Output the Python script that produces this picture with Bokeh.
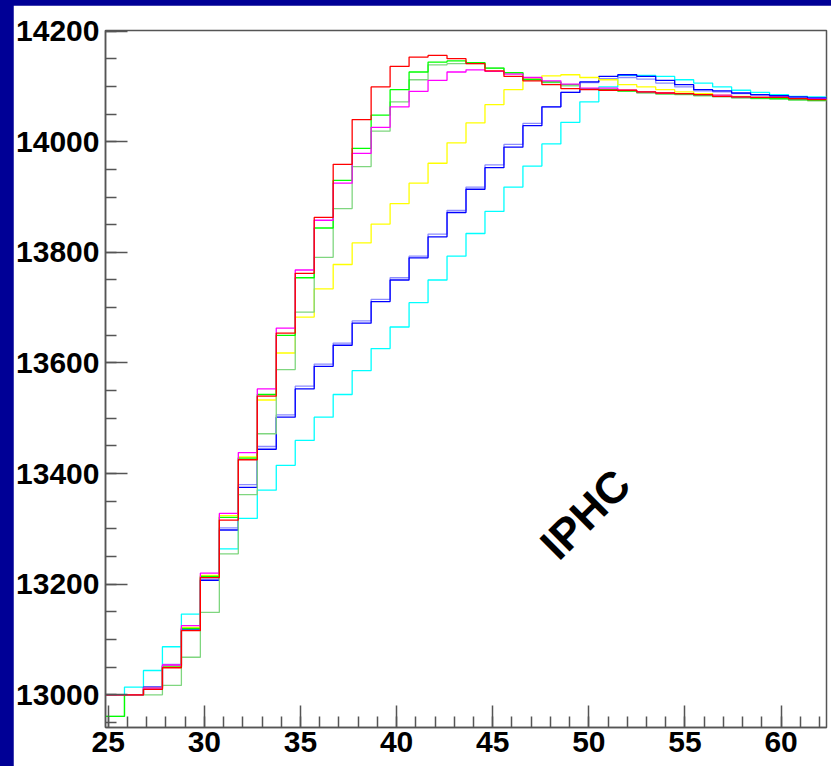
import numpy as np
from bokeh.plotting import figure
from bokeh.models import Range1d, Label, FixedTicker
from bokeh.layouts import column
from bokeh.embed import file_html
from bokeh.resources import INLINE

# ---- data -------------------------------------------------------------
x_lo, x_hi, n_bins = 24.86, 62.36, 38
y_lo, y_hi = 12941, 14201

red = [13000, 13000, 13010, 13049, 13116, 13212, 13316, 13425, 13540, 13654,
       13762, 13863, 13959, 14040, 14099, 14136, 14153, 14156, 14150, 14141,
       14128, 14118, 14110, 14103, 14096, 14094, 14093, 14093, 14090, 14088,
       14087, 14085, 14082, 14081, 14080, 14080, 14078, 14076]
green = [12961, 13000, 13010, 13050, 13120, 13214, 13321, 13428, 13543, 13650,
         13754, 13844, 13930, 13988, 14048, 14094, 14126, 14144, 14146, 14143,
         14133, 14125, 14112, 14108, 14103, 14096, 14094, 14092, 14089, 14087,
         14086, 14084, 14082, 14080, 14079, 14078, 14076, 14075]
pale_green = [12961, 13000, 13000, 13017, 13068, 13149, 13255, 13362, 13472, 13588,
              13692, 13791, 13879, 13955, 14019, 14072, 14112, 14139, 14141, 14141,
              14133, 14124, 14113, 14107, 14101, 14095, 14093, 14091, 14088, 14086,
              14085, 14083, 14081, 14079, 14078, 14077, 14075, 14074]
magenta = [13000, 13000, 13012, 13054, 13125, 13220, 13328, 13438, 13553, 13663,
           13768, 13858, 13925, 13979, 14026, 14063, 14091, 14111, 14126, 14130,
           14127, 14122, 14116, 14110, 14104, 14097, 14097, 14093, 14090, 14088,
           14087, 14085, 14084, 14081, 14080, 14080, 14078, 14077]
yellow = [13000, 13000, 13012, 13052, 13122, 13216, 13324, 13430, 13533, 13618,
          13683, 13734, 13778, 13817, 13851, 13888, 13925, 13961, 13998, 14034,
          14067, 14094, 14114, 14119, 14121, 14116, 14112, 14103, 14099, 14094,
          14090, 14087, 14084, 14082, 14080, 14079, 14077, 14076]
blue = [13000, 13000, 13014, 13052, 13119, 13207, 13298, 13375, 13444, 13502,
        13553, 13594, 13632, 13672, 13711, 13750, 13790, 13828, 13872, 13914,
        13953, 13990, 14029, 14063, 14089, 14108, 14118, 14121, 14118, 14111,
        14103, 14094, 14092, 14088, 14085, 14083, 14081, 14079]
pale_blue = [13000, 13000, 13014, 13055, 13121, 13209, 13302, 13380, 13449, 13506,
             13558, 13598, 13636, 13676, 13715, 13754, 13793, 13833, 13876, 13918,
             13958, 13995, 14033, 14063, 14089, 14107, 14114, 14116, 14113, 14106,
             14099, 14092, 14090, 14087, 14084, 14082, 14080, 14078]
cyan = [13000, 13014, 13044, 13087, 13146, 13207, 13264, 13319, 13370, 13415,
        13460, 13502, 13543, 13586, 13626, 13665, 13709, 13750, 13793, 13834,
        13874, 13918, 13956, 13996, 14035, 14072, 14099, 14120, 14120, 14118,
        14112, 14106, 14099, 14093, 14089, 14085, 14082, 14081]

x_ticks = [25, 30, 35, 40, 45, 50, 55, 60]
y_ticks = [13000, 13200, 13400, 13600, 13800, 14000, 14200]

series = [
    (cyan, "#00ffff"),
    (pale_blue, "#8c8cff"),
    (blue, "#0000ff"),
    (yellow, "#ffff00"),
    (pale_green, "#7fd67f"),
    (green, "#00ff00"),
    (magenta, "#ff00ff"),
    (red, "#ff0000"),
]

# ---- figure -----------------------------------------------------------
edges = np.linspace(x_lo, x_hi, n_bins + 1)

p = figure(width=818, height=761, output_backend="svg", toolbar_location=None,
           x_range=Range1d(x_lo, x_hi), y_range=Range1d(y_lo, y_hi),
           min_border_left=91, min_border_right=5, min_border_top=25,
           min_border_bottom=39)
p.background_fill_color = "white"
p.border_fill_color = "white"
p.grid.visible = False
p.outline_line_color = "#555555"
p.outline_line_width = 1.5

for vals, col in series:
    ys = list(vals) + [vals[-1]]
    p.step(edges, ys, mode="after", line_color=col, line_width=1.3)

for ax in (p.xaxis, p.yaxis):
    ax.axis_line_color = "#555555"
    ax.axis_line_width = 1.5
    ax.major_tick_line_color = "#555555"
    ax.minor_tick_line_color = "#555555"
    ax.major_tick_line_width = 1.5
    ax.minor_tick_line_width = 1.5
    ax.major_tick_in = 22
    ax.major_tick_out = 0
    ax.minor_tick_in = 11
    ax.minor_tick_out = 0
    ax.major_label_text_font = "Liberation Sans"
    ax.major_label_text_font_style = "bold"
    ax.major_label_text_font_size = "30px"
    ax.major_label_text_color = "black"

p.xaxis.ticker = FixedTicker(ticks=x_ticks, minor_ticks=list(range(25, 63)))
p.yaxis.ticker = FixedTicker(ticks=y_ticks, minor_ticks=list(range(12950, 14201, 50)))
p.xaxis.major_label_standoff = 4
p.yaxis.major_label_standoff = 6

p.add_layout(Label(x=49.8, y=13327, text="IPHC", angle=45, angle_units="deg",
                   text_font="Liberation Sans", text_font_style="bold",
                   text_font_size="44px", text_align="center",
                   text_baseline="middle", text_color="black"))

layout = column(p, styles={"background-color": "#000096",
                           "padding-left": "13px", "padding-top": "5px"})

open("out.html", "w").write(file_html(layout, INLINE))
